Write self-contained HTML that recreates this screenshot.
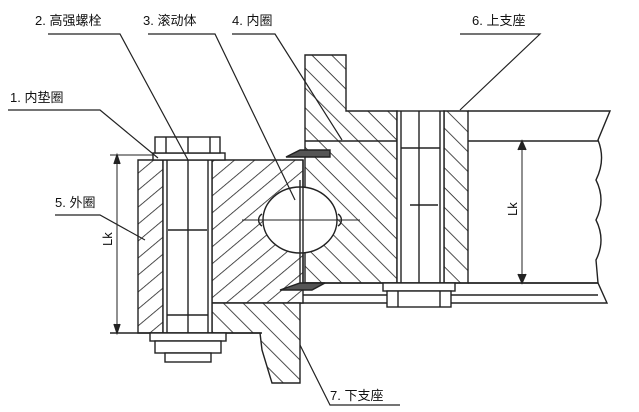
<!DOCTYPE html>
<html><head><meta charset="utf-8"><style>
html,body{margin:0;padding:0;background:#fff;}
svg{display:block;}
text{font-family:"Liberation Sans","Noto Sans CJK SC",sans-serif;font-size:13px;fill:#111;}
</style></head><body>
<svg width="639" height="412" viewBox="0 0 639 412" xmlns="http://www.w3.org/2000/svg">
<defs>
<pattern id="h1" patternUnits="userSpaceOnUse" width="14" height="14" patternTransform="rotate(-45)">
<rect width="14" height="14" fill="#fff"/><line x1="0" y1="0" x2="14" y2="0" stroke="#222" stroke-width="1.6"/></pattern>
<pattern id="h2" patternUnits="userSpaceOnUse" width="14" height="14" patternTransform="rotate(45)">
<rect width="14" height="14" fill="#fff"/><line x1="0" y1="0" x2="14" y2="0" stroke="#222" stroke-width="1.6"/></pattern>
<pattern id="h3" patternUnits="userSpaceOnUse" width="13" height="13" patternTransform="rotate(-40)">
<rect width="13" height="13" fill="#fff"/><line x1="0" y1="0" x2="13" y2="0" stroke="#222" stroke-width="1.6"/></pattern>
</defs>
<g stroke="#222" stroke-width="1.4" fill="none">
<path d="M305 55 L346 55 L346 111 L397 111 L397 283 L305 283 Z" fill="url(#h2)"/>
<path d="M444 111 L468 111 L468 283 L444 283 Z" fill="url(#h2)"/>
<line x1="305" y1="141" x2="397" y2="141"/>
<rect x="397" y="111" width="47" height="172" fill="#fff"/>
<line x1="401" y1="111" x2="401" y2="283"/><line x1="440" y1="111" x2="440" y2="283"/>
<line x1="419" y1="111" x2="419" y2="290"/>
<line x1="401" y1="148" x2="440" y2="148"/>
<path d="M468 111 L610 111 L598 140 Q606 160 596 180 Q606 200 596 220 Q606 240 596 260 L598 283" />
<line x1="468" y1="141" x2="598" y2="141"/>
<line x1="468" y1="283" x2="598" y2="283"/>
<path d="M300 283 L598 283 L607 303 L300 303"/>
<line x1="300" y1="295" x2="598" y2="295"/>
<rect x="383" y="283" width="72" height="8" fill="#fff"/>
<rect x="387" y="291" width="64" height="16" fill="#fff"/>
<line x1="398" y1="291" x2="398" y2="307"/><line x1="440" y1="291" x2="440" y2="307"/>
<line x1="410" y1="205" x2="438" y2="205"/>
<line x1="522" y1="141" x2="522" y2="283" stroke-width="1"/>
<path d="M518 150 L522 141 L526 150 M518 274 L522 283 L526 274" fill="#222"/>
<text x="510" y="215" font-size="8" transform="rotate(-90 514 212)" stroke="none">Lk</text>
<path d="M212 160 L303 160 L303 303 L212 303 Z" fill="url(#h3)"/>
<path d="M138 160 L163 160 L163 333 L138 333 Z" fill="url(#h3)"/>
<path d="M212 303 L300 303 L300 383 L272 383 L262 350 L260 333 L212 333 Z" fill="url(#h2)"/>
<ellipse cx="300" cy="220" rx="37" ry="33" fill="#fff"/>
<path d="M262 214 A7 7 0 0 0 262 226 M338 214 A7 7 0 0 1 338 226"/>
<line x1="242" y1="220" x2="360" y2="220" stroke-width="1"/>
<line x1="300" y1="180" x2="300" y2="283"/>
<line x1="303" y1="160" x2="303" y2="283"/>
<path d="M286 157 L300 150 L330 150 L330 157 Z" fill="#555"/>
<path d="M280 290 L300 283 L325 283 L312 290 Z" fill="#555"/>
<rect x="163" y="160" width="49" height="173" fill="#fff"/>
<line x1="167" y1="160" x2="167" y2="333"/><line x1="208" y1="160" x2="208" y2="333"/>
<line x1="188" y1="160" x2="188" y2="362"/>
<line x1="168" y1="230" x2="207" y2="230"/>
<line x1="167" y1="315" x2="208" y2="315"/>
<rect x="153" y="153" width="72" height="7" fill="#fff"/>
<rect x="155" y="137" width="65" height="16" fill="#fff"/>
<line x1="166" y1="137" x2="166" y2="153"/><line x1="188" y1="137" x2="188" y2="153"/><line x1="210" y1="137" x2="210" y2="153"/>
<line x1="110" y1="333" x2="262" y2="333"/>
<rect x="150" y="333" width="76" height="8" fill="#fff"/>
<rect x="155" y="341" width="66" height="12" fill="#fff"/>
<rect x="165" y="353" width="46" height="9" fill="#fff"/>
<line x1="110" y1="155" x2="153" y2="155" stroke-width="1"/>
<line x1="117" y1="155" x2="117" y2="333" stroke-width="1"/>
<path d="M114 164 L117 155 L120 164 M114 324 L117 333 L120 324" fill="#222"/>
<text x="104" y="242" font-size="8" transform="rotate(-90 110 240)" stroke="none">Lk</text>
<g stroke-width="1.2">
<path d="M48 34 L120 34 L188 160"/>
<path d="M148 34 L215 34 L295 200"/>
<path d="M232 34 L275 34 L342 140"/>
<path d="M460 34 L540 34 L460 110"/>
<path d="M8 110 L100 110 L158 158"/>
<path d="M55 215 L100 215 L145 240"/>
<path d="M400 405 L330 405 L300 345"/>
</g>
</g>
<text x="35" y="25">2. 高强螺栓</text>
<text x="143" y="25">3. 滚动体</text>
<text x="232" y="25">4. 内圈</text>
<text x="472" y="25">6. 上支座</text>
<text x="10" y="102">1. 内垫圈</text>
<text x="55" y="207">5. 外圈</text>
<text x="330" y="400">7. 下支座</text>
</svg>
</body></html>
